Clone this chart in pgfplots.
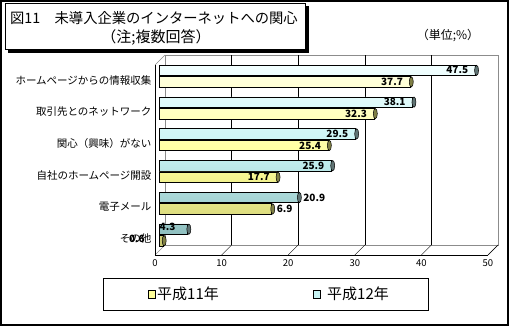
\documentclass[border=0pt]{standalone}
\usepackage{pgfplots}
\pgfplotsset{compat=1.18}
\usepackage{pgfplotstable}
\usepackage{fontspec}
\setmainfont{Noto Sans CJK JP}
\newfontfamily\jp{Noto Sans CJK JP}

\definecolor{cyT}{HTML}{F2FFFF}
\definecolor{cyM}{HTML}{C8F4F4}
\definecolor{cyB}{HTML}{8FBFBF}
\definecolor{yeT}{HTML}{FFFFDD}
\definecolor{yeM}{HTML}{FFFF99}
\definecolor{yeB}{HTML}{C8C870}
\definecolor{capC}{HTML}{5F7373}
\definecolor{capY}{HTML}{7F7F45}
\definecolor{wall}{gray}{0.55}

\pgfdeclareplotmark{cap}{%
  \pgfpathellipse{\pgfqpoint{1.2bp}{0pt}}{\pgfqpoint{2bp}{0pt}}{\pgfqpoint{0pt}{5.2bp}}%
  \pgfusepathqfillstroke}

% H12 (upper bar)
\pgfplotstableread{
y x lab
5 47.5 47.5
4 38.1 38.1
3 29.5 29.5
2 25.9 25.9
1 20.9 20.9
0 4.3 4.3
}\hdouble
% H11 (lower bar)
\pgfplotstableread{
y x lab
5 37.7 37.7
4 32.3 32.3
3 25.4 25.4
2 17.7 17.7
1 16.9 6.9
0 0.6 0.6
}\hsingle

\pgfplotsset{
  lab/.style={draw=none, mark=none, nodes near coords, point meta=explicit symbolic,
    every node near coord/.append style={inner sep=0pt,
      font=\fontsize{10bp}{12bp}\selectfont\bfseries}},
  inlab/.style={lab, x filter/.expression={x>24 ? x : nan},
    every node near coord/.append style={anchor=east, xshift=-3bp}},
  outlab/.style={lab, x filter/.expression={(x>10 && x<24) ? x : nan},
    every node near coord/.append style={anchor=west, xshift=9bp}},
  leftlab/.style={lab, x filter/.expression={x<10 ? x : nan},
    every node near coord/.append style={anchor=east, xshift=-8bp}},
}

\begin{document}
\begin{tikzpicture}
\path[use as bounding box] (0,0) rectangle (510bp,-328bp);
% outer frame
\draw[line width=1.2bp] (1bp,-1bp) rectangle (508bp,-325bp);
% title box with shadow
\fill[black] (8bp,-6bp) rectangle (308.5bp,-53bp);
\draw[fill=white, line width=0.8bp] (5bp,-3bp) rectangle (305bp,-49bp);
\node[anchor=west, font=\fontsize{14.3bp}{17bp}\selectfont, inner sep=0pt] at (10bp,-18bp) {図11　未導入企業のインターネットへの関心};
\node[font=\fontsize{15bp}{17bp}\selectfont, inner sep=0pt] at (156bp,-38bp) {（注;複数回答）};
\node[font=\fontsize{12bp}{14bp}\selectfont, inner sep=0pt] at (448bp,-36bp) {（単位;\%）};
% 3D walls
\draw[wall, fill=white] (165bp,-55bp) rectangle (498bp,-245bp);
\draw[wall] (155bp,-65bp) -- (165bp,-55bp);
\draw[wall] (155bp,-255bp) -- (165bp,-245bp);
\draw[wall] (488bp,-255bp) -- (498bp,-245bp);
\foreach \k in {1,2,3,4} {
  \draw[black] ({165bp+66.6bp*\k},-55bp) -- ({165bp+66.6bp*\k},-245bp);
}
\foreach \k in {1,2,3,4,5} {
  \draw[black] ({155bp+66.6bp*\k},-255bp) -- ({165bp+66.6bp*\k},-245bp);
}
% legend
\draw[line width=0.8bp, fill=white] (103bp,-278bp) rectangle (428bp,-310bp);
\draw[fill=yeM] (148bp,-290.5bp) rectangle (155.5bp,-298bp);
\node[anchor=west, font=\fontsize{15bp}{17bp}\selectfont, inner sep=0pt] at (157bp,-294bp) {平成11年};
\draw[fill=cyM] (313bp,-290.5bp) rectangle (320.5bp,-298bp);
\node[anchor=west, font=\fontsize{15bp}{17bp}\selectfont, inner sep=0pt] at (327bp,-294bp) {平成12年};

\begin{axis}[
  at={(155bp,-255bp)}, anchor=south west,
  scale only axis, width=333bp, height=190bp,
  xmin=0, xmax=50, ymin=-0.63, ymax=5.35,
  axis x line*=bottom, axis y line*=left,
  axis line style={black, line width=0.8bp, -},
  xtick={0,10,...,50}, ytick={0,...,5},
  yticklabels={その他,電子メール,自社のホームページ開設,関心（興味）がない,取引先とのネットワーク,ホームページからの情報収集},
  major tick length=0pt,
  /pgf/number format/assume math mode=true,
  xticklabel style={font=\fontsize{9.5bp}{11bp}\selectfont, yshift=-1bp},
  yticklabel style={font=\fontsize{10.5bp}{12bp}\selectfont, yshift=-4bp},
  clip=false,
]
\addplot[xbar, bar width=10.5bp, bar shift=5.75bp, draw=black, line width=0.6bp,
  top color=cyT, bottom color=cyB, middle color=cyM, xshift=4bp]
  table[x=x, y=y] {\hdouble};
\addplot[xbar, bar width=10.5bp, bar shift=-5.75bp, draw=black, line width=0.6bp,
  top color=yeT, bottom color=yeB, middle color=yeM, xshift=4bp]
  table[x=x, y=y] {\hsingle};
\addplot[only marks, mark=cap, xshift=4bp, yshift=5.75bp,
  mark options={fill=capC, draw=black, line width=0.5bp}]
  table[x=x, y=y] {\hdouble};
\addplot[only marks, mark=cap, xshift=4bp, yshift=-5.75bp,
  mark options={fill=capY, draw=black, line width=0.5bp}]
  table[x=x, y=y] {\hsingle};
% value labels
\addplot[inlab, every node near coord/.append style={yshift=5.75bp}] table[x=x, y=y, meta=lab] {\hdouble};
\addplot[outlab, every node near coord/.append style={yshift=5.75bp}] table[x=x, y=y, meta=lab] {\hdouble};
\addplot[leftlab, every node near coord/.append style={yshift=7.75bp}] table[x=x, y=y, meta=lab] {\hdouble};
\addplot[inlab, x filter/.expression={x>17 ? x : nan}, every node near coord/.append style={yshift=-5.75bp}] table[x=x, y=y, meta=lab] {\hsingle};
\addplot[outlab, x filter/.expression={(x>16 && x<17) ? x : nan}, every node near coord/.append style={yshift=-5.75bp}] table[x=x, y=y, meta=lab] {\hsingle};
\addplot[leftlab, every node near coord/.append style={yshift=-3.75bp, xshift=-6bp}] table[x=x, y=y, meta=lab] {\hsingle};
\end{axis}
\end{tikzpicture}
\end{document}
